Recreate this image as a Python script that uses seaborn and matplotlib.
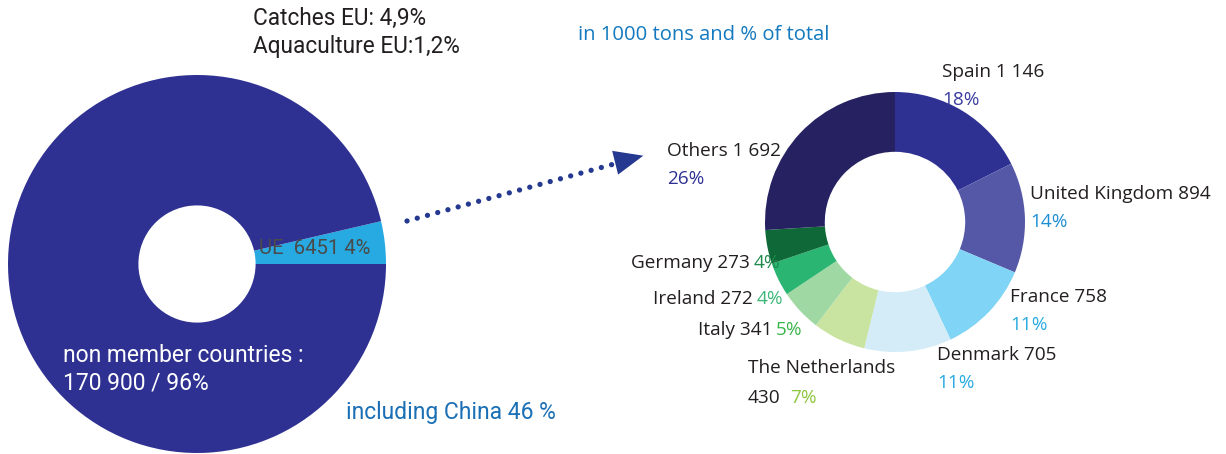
import matplotlib
matplotlib.use("Agg")
import matplotlib.pyplot as plt
import seaborn as sns

# ---------------- data ----------------
world_labels = ["UE", "non member countries"]
world_values = [6451, 170900]
world_pct = ["4%", "96%"]

countries = ["Spain", "United Kingdom", "France", "Denmark", "The Netherlands",
             "Italy", "Ireland", "Germany", "Others"]
tons = [1146, 894, 758, 705, 430, 341, 272, 273, 1692]
pct_labels = ["18%", "14%", "11%", "11%", "7%", "5%", "4%", "4%", "26%"]

eu_catch_share = "4,9%"
eu_aqua_share = "1,2%"
china_share = "46 %"

# ---------------- style ----------------
sns.set_theme(style="white")
W, H = 1226, 454
fig = plt.figure(figsize=(W / 100, H / 100), dpi=100)
fig.patch.set_facecolor("white")

NARROW = ["Roboto", "DejaVu Sans"]
MYRIAD = ["Open Sans", "DejaVu Sans"]

world_colors = sns.color_palette(["#27aae1", "#2e3192"])
eu_colors = sns.color_palette(["#2e3192", "#5558a6", "#80d4f5", "#d3ecf8",
                               "#c9e3a0", "#9fd8a2", "#2bb573", "#0e6837",
                               "#262262"])
pct_colors = ["#3a3ca0", "#1e8fd4", "#29abe2", "#29abe2", "#8dc63f",
              "#39b54a", "#3cb878", "#1f8a4c", "#2e3192"]
dark = "#231f20"


def ax_box(cx, cy, r):
    return [(cx - r) / W, 1 - (cy + r) / H, 2 * r / W, 2 * r / H]


# ---------------- left pie ----------------
ax1 = fig.add_axes(ax_box(197, 264, 189))
ax1.pie(world_values, colors=world_colors, startangle=0, counterclock=True,
        radius=1, wedgeprops=dict(width=0.69, linewidth=0))
ax1.set_xlim(-1, 1)
ax1.set_ylim(-1, 1)
ax1.set_aspect("auto")
ax1.axis("off")

# ---------------- right donut ----------------
ax2 = fig.add_axes(ax_box(895, 222, 130))
ax2.pie(tons, colors=eu_colors, startangle=90, counterclock=False,
        radius=1, wedgeprops=dict(width=0.46, linewidth=0))
ax2.set_xlim(-1, 1)
ax2.set_ylim(-1, 1)
ax2.set_aspect("auto")
ax2.axis("off")

# ---------------- overlay for text / arrow ----------------
ov = fig.add_axes([0, 0, 1, 1], zorder=5)
ov.set_xlim(0, W)
ov.set_ylim(H, 0)
ov.axis("off")
ov.patch.set_alpha(0)


def fmt(v):
    return f"{v:,}".replace(",", " ")


# left texts
ov.text(253, 18, f"Catches EU: {eu_catch_share}", family=NARROW, fontsize=16.3,
        color=dark, va="center", ha="left")
ov.text(253, 46, f"Aquaculture EU:{eu_aqua_share}", family=NARROW, fontsize=16.3,
        color=dark, va="center", ha="left")
ov.text(578, 35, "in 1000 tons and % of total", family=MYRIAD, fontsize=14.6,
        color="#1479bf", va="center", ha="left")
ov.text(259, 249, f"{world_labels[0]}  {world_values[0]} {world_pct[0]}",
        family=NARROW, fontsize=14.6, color="#4a4a4a", va="center", ha="left")
ov.text(63, 355, f"{world_labels[1]} :", family=NARROW, fontsize=16.5,
        color="white", va="center", ha="left")
ov.text(63, 383, f"{fmt(world_values[1])} / {world_pct[1]}", family=NARROW,
        fontsize=16.5, color="white", va="center", ha="left")
ov.text(346, 412, f"including China {china_share}", family=NARROW, fontsize=16.5,
        color="#1a6fb5", va="center", ha="left")

# arrow (dotted line + head)
ov.plot([407, 614], [221, 164], color="#24398f", lw=3.8,
        linestyle=(0, (0.01, 2.0)), dash_capstyle="round", solid_capstyle="round")
ov.annotate("", xy=(646, 155), xytext=(618, 162),
            arrowprops=dict(arrowstyle="-|>,head_length=0.95,head_width=0.4",
                            color="#24398f", lw=0, mutation_scale=22))

FS = 13.7
two_line = {
    "Spain": (942, 72),
    "United Kingdom": (1030, 194),
    "France": (1010, 297),
    "Denmark": (937, 355),
    "Others": (667, 151),
}
for name, t, p, pc in zip(countries, tons, pct_labels, pct_colors):
    if name in two_line:
        x, y = two_line[name]
        ov.text(x, y, f"{name} {fmt(t)}", family=MYRIAD, fontsize=FS,
                color=dark, va="center", ha="left")
        ov.text(x, y + 28, p, family=MYRIAD, fontsize=FS, color=pc,
                va="center", ha="left")

single = {
    "Germany": (750, 263),
    "Ireland": (753, 299),
    "Italy": (772, 330),
}
for name, t, p, pc in zip(countries, tons, pct_labels, pct_colors):
    if name in single:
        x, y = single[name]
        ov.text(x, y, f"{name} {fmt(t)}", family=MYRIAD, fontsize=FS,
                color=dark, va="center", ha="right")
        ov.text(x + 4, y, p, family=MYRIAD, fontsize=FS, color=pc,
                va="center", ha="left")

i = countries.index("The Netherlands")
ov.text(748, 368, countries[i], family=MYRIAD, fontsize=FS, color=dark,
        va="center", ha="left")
ov.text(748, 398, fmt(tons[i]), family=MYRIAD, fontsize=FS, color=dark,
        va="center", ha="left")
ov.text(790, 398, pct_labels[i], family=MYRIAD, fontsize=FS,
        color=pct_colors[i], va="center", ha="left")

fig.savefig("out.png", dpi=100, facecolor="white")
